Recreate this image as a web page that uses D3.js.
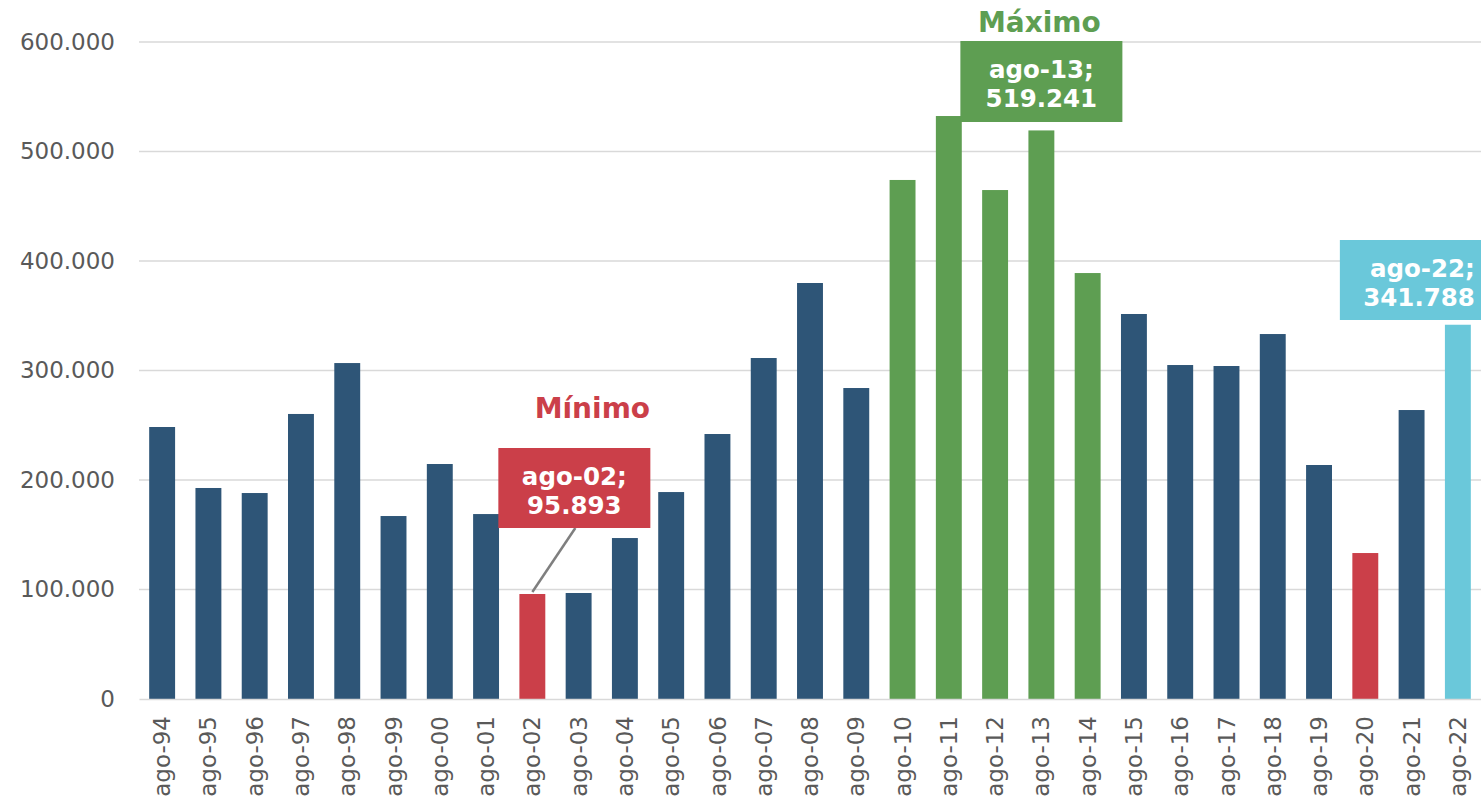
<!DOCTYPE html>
<html><head><meta charset="utf-8">
<script src="https://cdn.jsdelivr.net/npm/d3@7"></script>
<style>body{margin:0;background:#fff}svg{display:block}</style>
</head><body>
<svg id="c" width="1481" height="806"></svg>
<script>
const categories = ["ago-94","ago-95","ago-96","ago-97","ago-98","ago-99","ago-00","ago-01","ago-02","ago-03","ago-04","ago-05","ago-06","ago-07","ago-08","ago-09","ago-10","ago-11","ago-12","ago-13","ago-14","ago-15","ago-16","ago-17","ago-18","ago-19","ago-20","ago-21","ago-22"];
const values = [248400,192700,188100,260300,306800,167100,214600,168900,95893,96800,147000,189000,242000,311400,379900,284000,474000,532400,464800,519241,389000,351600,305000,304100,333300,213700,133300,263900,341788];
const groups = ["n","n","n","n","n","n","n","n","r","n","n","n","n","n","n","n","g","g","g","g","g","n","n","n","n","n","r","n","c"];
const yTicks = [0,100000,200000,300000,400000,500000,600000];
const colors = {n:"#2E5577", r:"#CB3F49", g:"#5E9E52", c:"#6AC8DA"};

const svg = d3.select("#c");
const font = "'DejaVu Sans', Verdana, sans-serif";
const x = d3.scaleBand().domain(categories).range([139,1481]).paddingInner(0.44).paddingOuter(0.22);
const y = d3.scaleLinear().domain([0,600000]).range([699,42]);
const fmt = v => d3.format(",")(v).replace(/,/g,".");

// gridlines
svg.append("g").selectAll("line").data(yTicks.slice(1)).join("line")
  .attr("x1",139).attr("x2",1481).attr("y1",d=>y(d)).attr("y2",d=>y(d))
  .attr("stroke","#D9D9D9").attr("stroke-width",1.5);

// y axis labels
const ya = svg.append("g").attr("transform","translate(115,0)")
  .call(d3.axisLeft(y).tickValues(yTicks).tickFormat(fmt).tickSize(0).tickPadding(0));
ya.select(".domain").remove();
ya.selectAll("text").attr("font-family",font).attr("font-size",23).attr("fill","#595959");

// bars
svg.append("g").selectAll("rect").data(categories).join("rect")
  .attr("x",d=>x(d)).attr("width",x.bandwidth())
  .attr("y",(d,i)=>y(values[i])).attr("height",(d,i)=>y(0)-y(values[i]))
  .attr("fill",(d,i)=>colors[groups[i]]);

// x axis
const xa = svg.append("g").attr("transform","translate(0,699)")
  .call(d3.axisBottom(x).tickSize(0).tickPadding(0));
xa.select(".domain").attr("stroke","#D9D9D9").attr("stroke-width",1.5);
xa.selectAll("text").attr("font-family",font).attr("font-size",23).attr("fill","#595959")
  .attr("text-anchor","end").attr("dy","0.35em")
  .attr("transform","translate(0,17) rotate(-90)").attr("x",0).attr("y",0);

// annotations
function note(cat, val, bx, by, bw, bh, fill, anchor, tx){
  const g = svg.append("g");
  g.append("rect").attr("x",bx).attr("y",by).attr("width",bw).attr("height",bh).attr("fill",fill);
  const t = g.append("text").attr("font-family",font).attr("font-weight","bold").attr("font-size",24.5)
    .attr("fill","#fff").attr("text-anchor",anchor);
  t.append("tspan").attr("x",tx).attr("y",by+37).text(cat+";");
  t.append("tspan").attr("x",tx).attr("y",by+66).text(fmt(val));
  return g;
}
// Minimum
const iMin = categories.indexOf("ago-02");
const cMin = x("ago-02")+x.bandwidth()/2;
svg.append("line").attr("x1",cMin+43).attr("y1",528).attr("x2",cMin).attr("y2",y(values[iMin])-2)
  .attr("stroke","#7F7F7F").attr("stroke-width",2.5);
note("ago-02", values[iMin], cMin-34, 448, 152, 80, "#CB3F49", "middle", cMin+42);
svg.append("text").attr("x",cMin+60).attr("y",418).attr("text-anchor","middle")
  .attr("font-family",font).attr("font-weight","bold").attr("font-size",28).attr("fill","#CB3F49").text("Mínimo");

// Maximum
const iMax = categories.indexOf("ago-13");
const cMax = x("ago-13")+x.bandwidth()/2;
note("ago-13", values[iMax], cMax-81, 41, 162, 81, "#5E9E52", "middle", cMax);
svg.append("text").attr("x",cMax-2).attr("y",32).attr("text-anchor","middle")
  .attr("font-family",font).attr("font-weight","bold").attr("font-size",28).attr("fill","#5E9E52").text("Máximo");

// Last
const iLast = categories.indexOf("ago-22");
const cLast = x("ago-22")+x.bandwidth()/2;
note("ago-22", values[iLast], cLast-118, 240, 150, 80, "#6AC8DA", "end", cLast+17);
</script>
</body></html>
